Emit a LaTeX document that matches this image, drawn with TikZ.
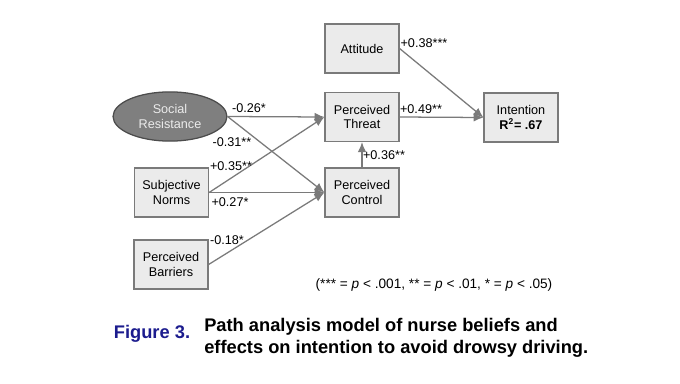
\documentclass[tikz,border=0pt]{standalone}
\usepackage{fontspec}
\setmainfont{Liberation Sans}
\usetikzlibrary{arrows.meta,shapes.geometric}
\definecolor{boxfill}{HTML}{EBEBEB}
\definecolor{boxline}{HTML}{7A7A7A}
\definecolor{ovalfill}{HTML}{7F7F7F}
\definecolor{figblue}{HTML}{1C1C8E}
\tikzset{
  varbox/.style={draw=boxline,fill=boxfill,line width=0.9pt,minimum width=52.6pt,minimum height=34.9pt,inner sep=1pt,align=center,font=\fontsize{9}{10.5}\selectfont},
  path/.style={draw=boxline,line width=0.9pt,-{Latex[length=7pt,width=6pt]}},
  coef/.style={font=\fontsize{9}{11}\selectfont,inner sep=0pt}
}
\begin{document}
\begin{tikzpicture}[x=0.025cm,y=-0.025cm]
    % Rahmen
    \useasboundingbox[fill=white] (0,0) rectangle (680,383);
    
    % Variablen
    \node[varbox] (att) at (362,48.5) {Attitude};
    \node[varbox] (pt) at (362,117) {Perceived\\Threat};
    \node[varbox] (pc) at (362,192.5) {Perceived\\Control};
    \node[varbox] (sn) at (171.5,192.5) {Subjective\\Norms};
    \node[varbox] (pb) at (171,264.5) {Perceived\\Barriers};
    \node[varbox] (int) at (521,117.5) {Intention\\\textbf{R\textsuperscript{2}= .67}};
    \node[ellipse,draw=black!70,fill=ovalfill,line width=0.9pt,minimum width=81pt,minimum height=35pt,
          inner sep=0pt,align=center,text=black!8,font=\fontsize{9}{10.5}\selectfont] (sr) at (170,116.5) {Social\\Resistance};
    
    % Pfade
    \draw[path] (sr.east) -- (pt.west);
    \draw[path] (sr.east) -- (pc.west);
    \draw[path] (sn.east) -- (pt.west);
    \draw[path] (sn.east) -- (pc.west);
    \draw[path] (pb.east) -- (pc.west);
    \draw[path] (pc.north) -- (pt.south);
    \draw[path] (att.east) -- (int.west);
    \draw[path] (pt.east) -- (int.west);
    
    % Koeffizienten
    \node[coef] (c1) at (249,108) {-0.26*};
    \node[coef] (c2) at (232,142) {-0.31**};
    \node[coef] (c3) at (231,166) {+0.35**};
    \node[coef] (c4) at (230,202.5) {+0.27*};
    \node[coef] (c5) at (227,240.5) {-0.18*};
    \node[coef] (c6) at (384,155.5) {+0.36**};
    \node[coef] (c7) at (424,43.5) {+0.38***};
    \node[coef] (c8) at (421,109.5) {+0.49**};
    
    % Legende
    \node[coef,font=\fontsize{9.7}{11}\selectfont] (leg) at (434,284.5) {(*** = \textit{p} < .001, ** = \textit{p} < .01, * = \textit{p} < .05)};
    
    % Bildunterschrift
    \node[font=\fontsize{13}{15}\bfseries,text=figblue,inner sep=0pt] (fig) at (152,334) {Figure 3.};
    \node[font=\fontsize{13}{15.5}\bfseries,align=left,anchor=west,inner sep=0pt] (cap) at (204,338) {Path analysis model of nurse beliefs and\\effects on intention to avoid drowsy driving.};
\end{tikzpicture}
\end{document}
